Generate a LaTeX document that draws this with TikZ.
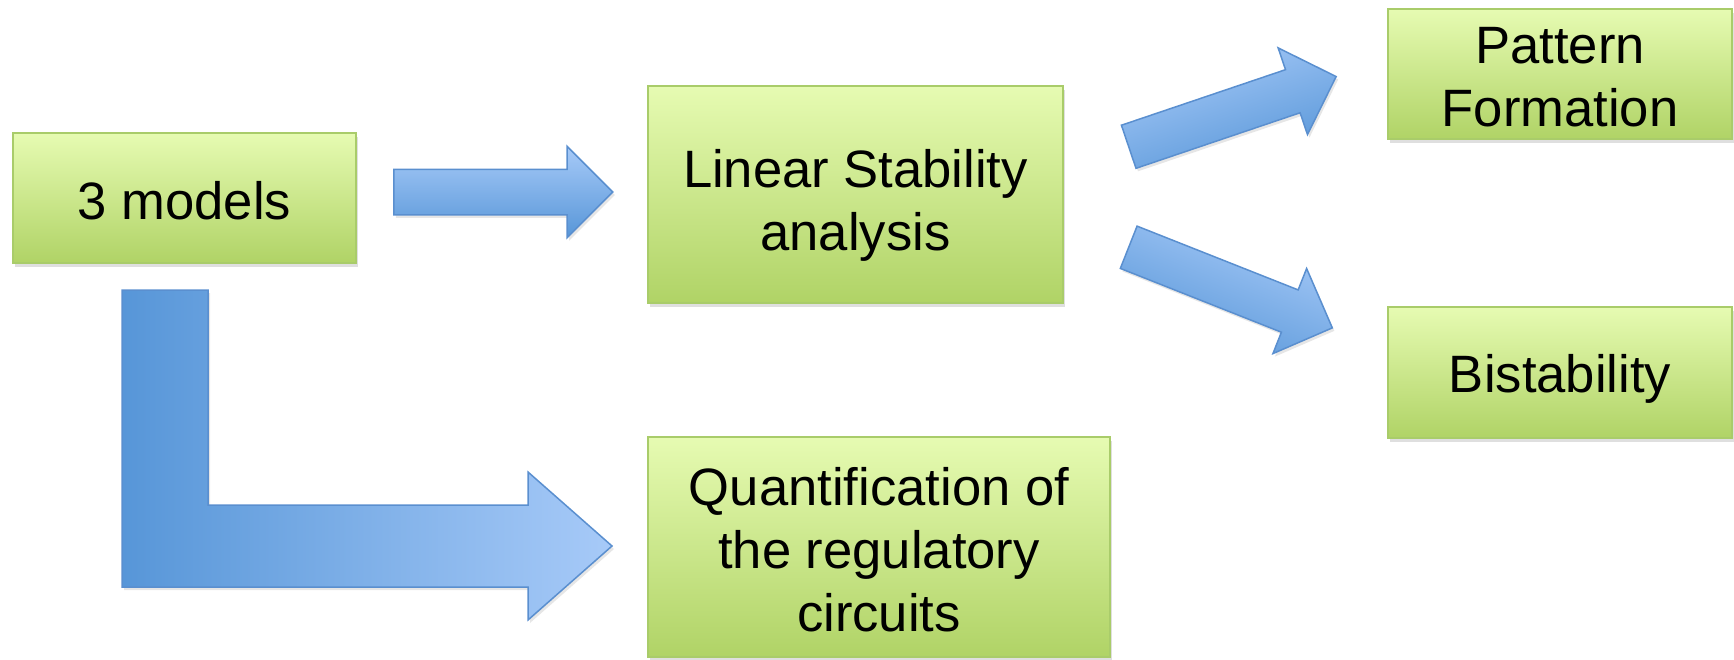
\documentclass[tikz,border=0pt]{standalone}
\usepackage{fontspec}
\setmainfont{Liberation Sans}
\usetikzlibrary{positioning}
\usetikzlibrary{shapes.arrows,shadows}
\definecolor{boxtop}{HTML}{E6FBB2}
\definecolor{boxbot}{HTML}{B0D366}
\definecolor{boxline}{HTML}{A9CC6A}
\definecolor{arrowlight}{HTML}{A7CAF8}
\definecolor{arrowdark}{HTML}{5796D8}
\definecolor{arrowline}{HTML}{5A8FCF}
\newcommand{\pushdown}[1]{\rule{0pt}{#1}}
\tikzset{
  greenbox/.style={draw=boxline, line width=1.5pt,
    top color=boxtop, bottom color=boxbot,
    align=center, inner sep=0pt,
    font=\fontsize{52.6}{63}\selectfont,
    drop shadow={shadow xshift=2pt, shadow yshift=-4pt, opacity=0.25}},
  bluearrow/.style={single arrow, draw=arrowline, line width=1.5pt,
    top color=arrowlight, bottom color=arrowdark,
    single arrow head extend=23pt,
    minimum height=219pt, inner xsep=0pt, inner ysep=22pt,
    anchor=tail,
    drop shadow={shadow xshift=2pt, shadow yshift=-3pt, opacity=0.2}}
}

\begin{document}
\begin{tikzpicture}[x=1pt,y=-1pt]
\useasboundingbox (0,0) rectangle (1734,659);

% Input
\node[greenbox,
    minimum width=343pt,
    minimum height=130pt
    ] (models) at (184.5,198) {\pushdown{44pt}3 models};

% Analysis
\node[greenbox,
    minimum width=415pt,
    minimum height=217pt
    ] (linear) at (855.5,194.5) {\pushdown{60pt}Linear Stability\\analysis};

% Results
\node[greenbox,
    minimum width=344pt,
    minimum height=130pt
    ] (pattern) at (1560,74) {\pushdown{42pt}Pattern\\Formation};

\node[greenbox,
    minimum width=344pt,
    minimum height=131pt
    ] (bistab) at (1560,372.5) {\pushdown{50pt}Bistability};

\node[greenbox,
    minimum width=462pt,
    minimum height=220pt
    ] (quant) at (879,547) {\pushdown{44pt}Quantification of\\the regulatory\\circuits};

% Straight arrows (placed by their tails)
\node[bluearrow] (tolinear) at (393,192) {};
\node[bluearrow, rotate=18.7, shading angle=18.7] (topattern) at (1128,147) {};
\node[bluearrow, rotate=-21.6, shading angle=-21.6] (tobistab) at (1128,247) {};

% Bent arrow
\draw[draw=arrowline, line width=1.5pt,
    left color=arrowdark, right color=arrowlight,
    drop shadow={shadow xshift=2pt, shadow yshift=-3pt, opacity=0.2}]
    (122,290) -- (208,290) -- (208,505) -- (528,505) -- (528,472)
    -- (612,546) -- (528,620) -- (528,587) -- (122,587) -- cycle;

\end{tikzpicture}
\end{document}
